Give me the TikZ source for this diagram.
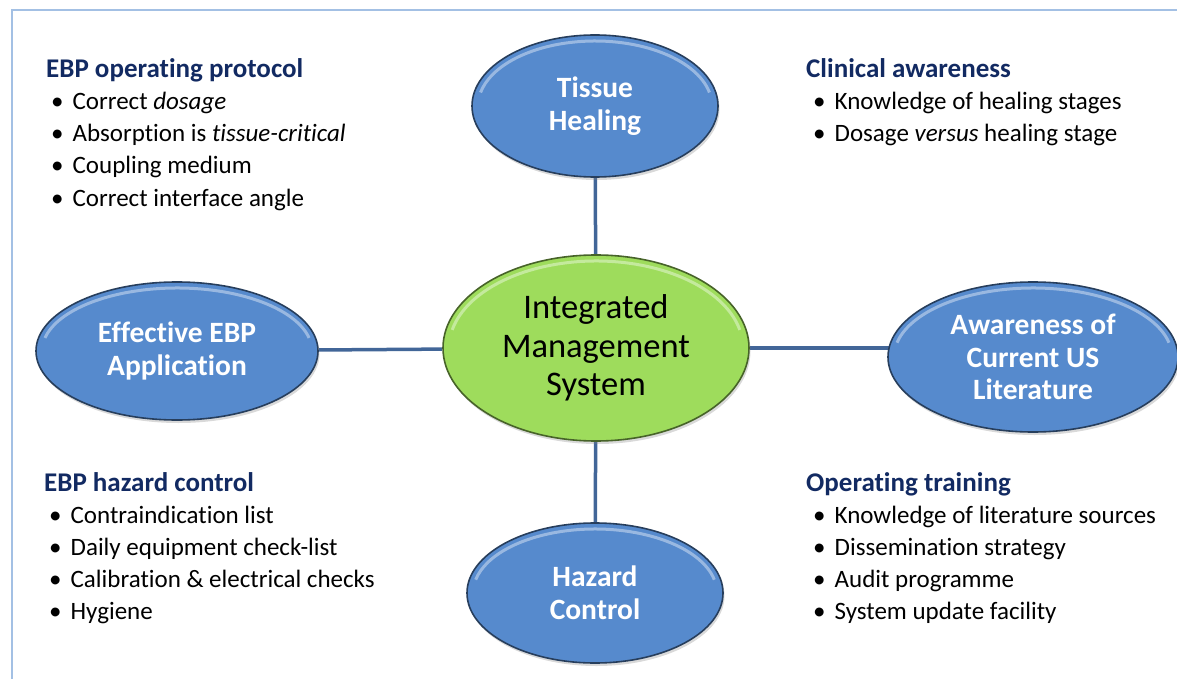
\documentclass[tikz,border=0pt]{standalone}
\usepackage{fontspec}
\setmainfont{Carlito}[Ligatures=NoCommon]
\definecolor{ovblue}{RGB}{86,138,205}
\definecolor{ovgreen}{RGB}{158,220,92}
\definecolor{ovnavy}{RGB}{18,42,98}
\definecolor{ovlink}{RGB}{66,102,152}
\definecolor{ovframe}{RGB}{163,192,228}
\usetikzlibrary{shapes.geometric,shadows,calc,backgrounds}
\tikzset{
    bevel/.style={
        path picture={
            \path let \p1=($(path picture bounding box.north east)-(path picture bounding box.center)$) in
                [draw=white, opacity=.4, line width=3pt]
                ($(path picture bounding box.center)+(12:{\x1-6pt} and {\y1-6pt})$)
                arc[start angle=12, end angle=168, x radius=\x1-6pt, y radius=\y1-6pt];
        }
    },
    bubble/.style={
        ellipse, draw=#1!45!black, line width=1.6pt, fill=#1, inner sep=0pt,
        align=center, bevel,
        drop shadow={opacity=.3, shadow xshift=1.5pt, shadow yshift=-3pt}
    },
    bubble/.default=ovblue,
    spoke/.style={
        bubble=ovblue, text=white, font=\fontsize{29.5}{32.5}\selectfont\bfseries
    },
    hub/.style={
        bubble=ovgreen, text=black, font=\fontsize{34.5}{38.5}\selectfont
    },
    listhead/.style={
        anchor=base west, inner sep=0pt, text=ovnavy,
        font=\fontsize{27}{30}\selectfont\bfseries
    },
    listitem/.style={
        anchor=base west, inner sep=0pt, text=black,
        font=\fontsize{25}{30}\selectfont,
        execute at begin node={\textbullet\hspace{0.36em}}
    },
    link/.style={draw=ovlink, line width=3.5pt}
}
\begin{document}
\begin{tikzpicture}[x=1pt,y=-1pt]
\useasboundingbox (0,0) rectangle (1177,679);
\draw[ovframe, line width=1.5pt] (12,679) -- (12,10) -- (1177,10);

% hub and the four spokes
\node[hub, minimum width=306pt, minimum height=186pt]
  (ims) at (596,348) {Integrated\\Management\\System};
\node[spoke, minimum width=246pt, minimum height=142pt]
  (tissue) at (595,106) {Tissue\\Healing};
\node[spoke, minimum width=282pt, minimum height=138pt]
  (effective) at (177,351) {Effective EBP\\Application};
\node[spoke, minimum width=290pt, minimum height=150pt]
  (aware) at (1033,357) {Awareness of\\Current US\\Literature};
\node[spoke, minimum width=256pt, minimum height=140pt]
  (hazard) at (595,593) {Hazard\\Control};

\begin{scope}[on background layer]
\draw[link](tissue)--(ims);
\draw[link](effective)--(ims);
\draw[link](ims.east)--(ims.east -| aware);
\draw[link](hazard)--(ims);
\end{scope}

% corner lists
\node[listhead] (op-head) at (46,78) {EBP operating protocol};
\foreach \txt [count=\i] in {Correct \textit{dosage}, Absorption is \textit{tissue-critical},
    Coupling medium, Correct interface angle}
  \node[listitem] (op-\i) at (51,78+32*\i) {\txt};

\node[listhead] (ca-head) at (806,78) {Clinical awareness};
\foreach \txt [count=\i] in {Knowledge of healing stages, Dosage \textit{versus} healing stage}
  \node[listitem] (ca-\i) at (813,78+32*\i) {\txt};

\node[listhead] (hc-head) at (44,491) {EBP hazard control};
\foreach \txt [count=\i] in {Contraindication list, Daily equipment check-list,
    Calibration \& electrical checks, Hygiene}
  \node[listitem] (hc-\i) at (49,491+32*\i) {\txt};

\node[listhead] (ot-head) at (806,491) {Operating training};
\foreach \txt [count=\i] in {Knowledge of literature sources, Dissemination strategy,
    Audit programme, System update facility}
  \node[listitem] (ot-\i) at (813,491+32*\i) {\txt};
\end{tikzpicture}
\end{document}
